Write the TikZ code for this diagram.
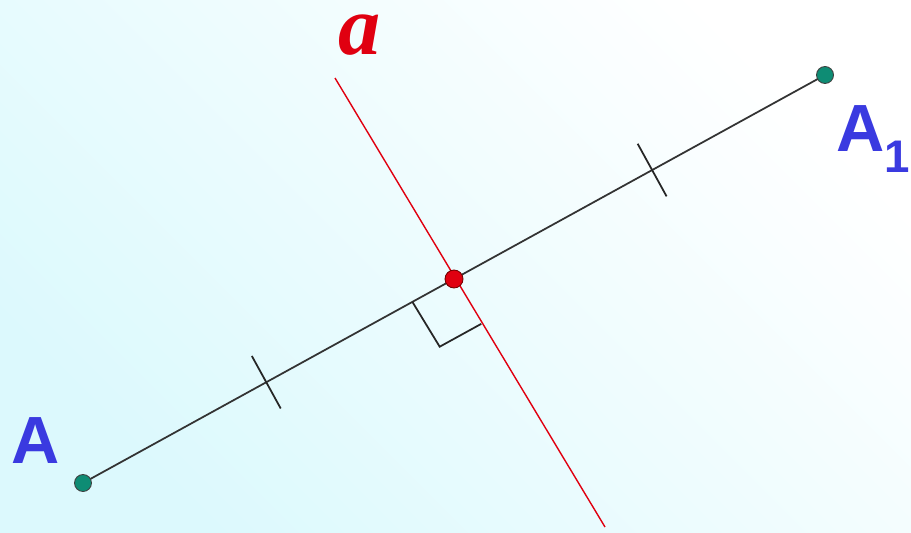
\documentclass[tikz,border=0pt]{standalone}
\usepackage{fontspec}
\setsansfont{Liberation Sans}
\setmainfont{Liberation Serif}
\usetikzlibrary{calc}
\definecolor{ptgreen}{HTML}{0E8C74}
\definecolor{ptred}{HTML}{E00010}
\definecolor{lblblue}{HTML}{3A3AE0}
\definecolor{bgcyan}{HTML}{DCF9FD}
\tikzset{
	gdot/.style={circle, draw=black!75, fill=ptgreen, inner sep=0pt,
		minimum size=0.34cm, line width=0.5pt},
	rdot/.style={circle, draw=red!45!black, fill=ptred, inner sep=0pt,
		minimum size=0.36cm, line width=0.5pt},
	seg/.style={draw=black!80, line width=1pt},
	perpline/.style={draw=ptred, line width=0.8pt},
	tickmark/.style={draw=black!85, line width=1pt},
	ptlabel/.style={font=\sffamily\bfseries\fontsize{38}{38}\selectfont,
		text=lblblue, inner sep=0pt},
	linelabel/.style={font=\rmfamily\bfseries\itshape\fontsize{48}{48}\selectfont,
		text=ptred, inner sep=0pt, text height=1ex, text depth=0pt}
}

\begin{document}
\begin{tikzpicture}[x=0.02cm, y=-0.02cm]
	% background
	\shade[bottom color=bgcyan, top color=white, shading angle=-45]
		(0,0) rectangle (911,533);
	\clip (0,0) rectangle (911,533);
	\useasboundingbox (0,0) rectangle (911,533);
	% points and line a
	\coordinate (Ra) at (335,78);
	\coordinate (Rb) at (605,527);
	\coordinate (Pa) at (83,483);
	\coordinate (Pb) at (825,75);
	\coordinate (Mid) at ($(Pa)!0.5!(Pb)$);
	\draw[perpline] (Ra) -- (Rb);
	\draw[seg] (Pa) -- (Pb);
	% equal marks
	\coordinate (T1) at ($(Pa)!0.247!(Pb)$);
	\coordinate (T2) at ($(Pa)!0.767!(Pb)$);
	\draw[tickmark] ($(T1)!0.6cm!90:(Pb)$) -- ($(T1)!0.6cm!-90:(Pb)$);
	\draw[tickmark] ($(T2)!0.6cm!90:(Pb)$) -- ($(T2)!0.6cm!-90:(Pb)$);
	% right angle
	\coordinate (Q1) at ($(Mid)!0.95cm!(Pa)$);
	\coordinate (Q2) at ($(Mid)!1.05cm!(Rb)$);
	\draw[tickmark] (Q1) -- ($(Q1)-(Mid)+(Q2)$) -- (Q2);
	% dots
	\node[gdot] (A) at (Pa) {};
	\node[gdot] (A1) at (Pb) {};
	\node[rdot] (M) at (Mid) {};
	% labels
	\node[ptlabel, anchor=base west] (lA) at (11,463) {A};
	\node[ptlabel, anchor=base west] (lA1) at (836,152)
		{A\raisebox{-0.3em}{\fontsize{26}{26}\selectfont 1}};
	\node[linelabel, anchor=base west] (la) at (338,55) {a};
\end{tikzpicture}
\end{document}
